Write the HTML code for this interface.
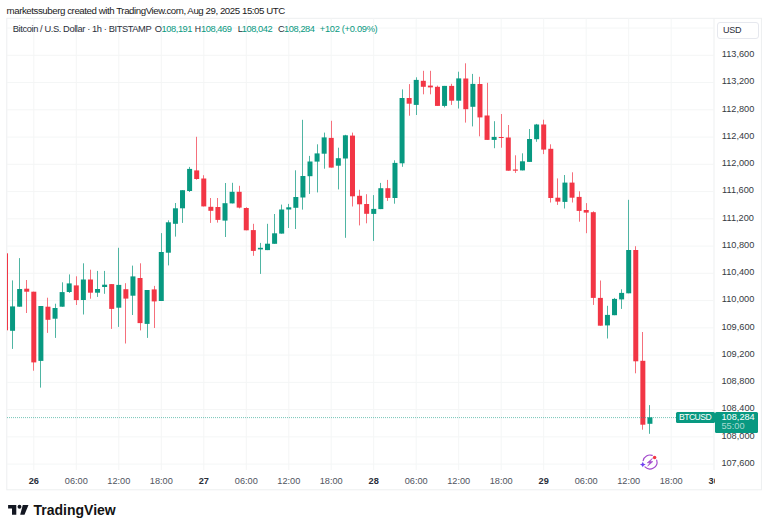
<!DOCTYPE html>
<html><head><meta charset="utf-8"><style>
html,body{margin:0;padding:0;background:#fff;}
body{width:768px;height:531px;position:relative;overflow:hidden;font-family:"Liberation Sans",sans-serif;color:#131722;}
.hdr{position:absolute;left:6.6px;top:4.9px;font-size:9.7px;letter-spacing:-0.44px;white-space:nowrap;color:#1a1a1a;}
svg{position:absolute;left:0;top:0;}
.leg{position:absolute;top:23.8px;font-size:9.3px;white-space:nowrap;color:#2a2e39;}
.leg.v{color:#089981;}
.pl{position:absolute;left:715px;width:46px;text-align:center;font-size:9.2px;color:#363a42;line-height:12px;}
.tlw{position:absolute;left:0;top:473px;width:715px;height:16px;overflow:hidden;}
.tl{position:absolute;top:2.1px;width:40px;text-align:center;font-size:9.2px;color:#50535e;line-height:12px;}
.tl.b{font-weight:bold;color:#2a2e39;}
.usd{position:absolute;left:717px;top:21.5px;width:42px;height:17.5px;border:1px solid #e6e8ee;border-radius:3px;box-sizing:border-box;font-size:9px;line-height:15.5px;color:#2a2e39;padding-left:5px;letter-spacing:-0.3px;}
.btc{position:absolute;left:675.6px;top:412px;width:39px;height:11.4px;background:#089981;border-radius:1.5px;color:#fff;font-size:8.6px;line-height:11.6px;text-align:center;letter-spacing:-0.5px;}
.pb{position:absolute;left:715px;top:412px;width:42.8px;height:20.6px;background:#089981;border-radius:1.5px;color:#fff;font-size:9.2px;line-height:9.6px;padding:0.9px 0 0 6.5px;box-sizing:border-box;}
.pb .t{color:rgba(255,255,255,0.65);}
.logo{position:absolute;left:33.5px;top:502px;font-size:14px;font-weight:bold;letter-spacing:0px;color:#131313;line-height:16px;}
</style></head><body>
<div class="hdr">marketssuberg created with TradingView.com, Aug 29, 2025 15:05 UTC</div>
<svg width="768" height="531" viewBox="0 0 768 531">
<rect x="6.8" y="18.3" width="754.6" height="471.5" fill="none" stroke="#edeff0" stroke-width="1"/>
<line x1="714" y1="18.5" x2="714" y2="470" stroke="#edeff0" stroke-width="1"/>
<g stroke="#f4f6f6" stroke-width="1"><line x1="7" y1="28.0" x2="714" y2="28.0"/><line x1="7" y1="55.3" x2="714" y2="55.3"/><line x1="7" y1="82.5" x2="714" y2="82.5"/><line x1="7" y1="109.8" x2="714" y2="109.8"/><line x1="7" y1="137.1" x2="714" y2="137.1"/><line x1="7" y1="164.3" x2="714" y2="164.3"/><line x1="7" y1="191.6" x2="714" y2="191.6"/><line x1="7" y1="218.8" x2="714" y2="218.8"/><line x1="7" y1="246.1" x2="714" y2="246.1"/><line x1="7" y1="273.3" x2="714" y2="273.3"/><line x1="7" y1="300.6" x2="714" y2="300.6"/><line x1="7" y1="327.9" x2="714" y2="327.9"/><line x1="7" y1="355.1" x2="714" y2="355.1"/><line x1="7" y1="382.4" x2="714" y2="382.4"/><line x1="7" y1="409.6" x2="714" y2="409.6"/><line x1="7" y1="436.9" x2="714" y2="436.9"/><line x1="7" y1="464.1" x2="714" y2="464.1"/><line x1="33.8" y1="18.5" x2="33.8" y2="470"/><line x1="76.3" y1="18.5" x2="76.3" y2="470"/><line x1="118.8" y1="18.5" x2="118.8" y2="470"/><line x1="161.3" y1="18.5" x2="161.3" y2="470"/><line x1="203.8" y1="18.5" x2="203.8" y2="470"/><line x1="246.3" y1="18.5" x2="246.3" y2="470"/><line x1="288.8" y1="18.5" x2="288.8" y2="470"/><line x1="331.2" y1="18.5" x2="331.2" y2="470"/><line x1="373.7" y1="18.5" x2="373.7" y2="470"/><line x1="416.2" y1="18.5" x2="416.2" y2="470"/><line x1="458.7" y1="18.5" x2="458.7" y2="470"/><line x1="501.2" y1="18.5" x2="501.2" y2="470"/><line x1="543.7" y1="18.5" x2="543.7" y2="470"/><line x1="586.2" y1="18.5" x2="586.2" y2="470"/><line x1="628.7" y1="18.5" x2="628.7" y2="470"/><line x1="671.2" y1="18.5" x2="671.2" y2="470"/></g><g fill="#4fb5a3"><rect x="12" y="280.40" width="1" height="68.50"/><rect x="19" y="258.10" width="1" height="48.60"/><rect x="40" y="306.00" width="1" height="81.60"/><rect x="55" y="303.70" width="1" height="34.20"/><rect x="62" y="282.30" width="1" height="24.40"/><rect x="69" y="274.40" width="1" height="18.50"/><rect x="83" y="263.30" width="1" height="51.20"/><rect x="97" y="270.90" width="1" height="26.00"/><rect x="104" y="270.90" width="1" height="22.90"/><rect x="118" y="247.80" width="1" height="79.10"/><rect x="132" y="265.60" width="1" height="49.40"/><rect x="147" y="290.00" width="1" height="47.90"/><rect x="161" y="233.10" width="1" height="67.90"/><rect x="168" y="220.30" width="1" height="45.10"/><rect x="175" y="203.00" width="1" height="33.60"/><rect x="182" y="190.20" width="1" height="32.70"/><rect x="189" y="166.90" width="1" height="25.10"/><rect x="225" y="183.00" width="1" height="54.00"/><rect x="232" y="182.80" width="1" height="20.60"/><rect x="260" y="242.90" width="1" height="31.00"/><rect x="267" y="223.80" width="1" height="26.30"/><rect x="274" y="214.00" width="1" height="29.80"/><rect x="281" y="204.60" width="1" height="29.00"/><rect x="288" y="203.90" width="1" height="24.10"/><rect x="295" y="170.30" width="1" height="58.70"/><rect x="302" y="119.80" width="1" height="89.80"/><rect x="309" y="155.90" width="1" height="38.00"/><rect x="317" y="144.30" width="1" height="48.10"/><rect x="324" y="132.60" width="1" height="36.10"/><rect x="338" y="147.70" width="1" height="41.70"/><rect x="345" y="134.80" width="1" height="103.00"/><rect x="373" y="195.10" width="1" height="45.80"/><rect x="380" y="182.90" width="1" height="26.20"/><rect x="394" y="160.30" width="1" height="43.40"/><rect x="402" y="89.40" width="1" height="77.40"/><rect x="416" y="77.30" width="1" height="37.70"/><rect x="444" y="85.90" width="1" height="21.50"/><rect x="458" y="71.70" width="1" height="36.80"/><rect x="472" y="73.90" width="1" height="52.50"/><rect x="494" y="121.20" width="1" height="27.00"/><rect x="522" y="153.30" width="1" height="17.10"/><rect x="529" y="129.00" width="1" height="32.90"/><rect x="536" y="123.90" width="1" height="17.90"/><rect x="564" y="175.00" width="1" height="33.50"/><rect x="607" y="305.80" width="1" height="32.70"/><rect x="614" y="297.90" width="1" height="17.30"/><rect x="621" y="289.30" width="1" height="19.60"/><rect x="628" y="199.80" width="1" height="93.50"/><rect x="649" y="405.10" width="1" height="28.70"/></g><g fill="#f5707c"><rect x="26" y="280.00" width="1" height="33.00"/><rect x="33" y="291.70" width="1" height="79.00"/><rect x="47" y="297.70" width="1" height="35.20"/><rect x="76" y="276.30" width="1" height="28.70"/><rect x="90" y="269.70" width="1" height="29.00"/><rect x="111" y="284.10" width="1" height="44.80"/><rect x="125" y="283.20" width="1" height="60.30"/><rect x="140" y="263.30" width="1" height="67.10"/><rect x="154" y="285.90" width="1" height="42.10"/><rect x="196" y="136.80" width="1" height="42.90"/><rect x="203" y="175.20" width="1" height="31.20"/><rect x="210" y="198.00" width="1" height="24.90"/><rect x="217" y="198.00" width="1" height="24.60"/><rect x="239" y="185.80" width="1" height="22.60"/><rect x="246" y="207.20" width="1" height="23.10"/><rect x="253" y="223.80" width="1" height="32.00"/><rect x="331" y="120.80" width="1" height="46.80"/><rect x="352" y="132.60" width="1" height="73.90"/><rect x="359" y="189.80" width="1" height="35.60"/><rect x="366" y="194.20" width="1" height="29.10"/><rect x="387" y="179.90" width="1" height="21.00"/><rect x="409" y="84.10" width="1" height="31.60"/><rect x="423" y="70.80" width="1" height="23.50"/><rect x="430" y="70.80" width="1" height="23.50"/><rect x="437" y="85.60" width="1" height="20.30"/><rect x="451" y="83.80" width="1" height="21.10"/><rect x="465" y="63.30" width="1" height="59.30"/><rect x="479" y="76.80" width="1" height="59.50"/><rect x="487" y="82.80" width="1" height="57.10"/><rect x="501" y="114.00" width="1" height="33.70"/><rect x="508" y="125.00" width="1" height="45.70"/><rect x="515" y="155.30" width="1" height="17.60"/><rect x="543" y="119.70" width="1" height="34.40"/><rect x="550" y="144.30" width="1" height="58.20"/><rect x="557" y="178.40" width="1" height="26.50"/><rect x="572" y="172.30" width="1" height="30.20"/><rect x="579" y="191.30" width="1" height="30.40"/><rect x="586" y="203.10" width="1" height="30.10"/><rect x="593" y="211.30" width="1" height="93.60"/><rect x="600" y="280.50" width="1" height="45.20"/><rect x="635" y="246.20" width="1" height="127.10"/><rect x="642" y="332.00" width="1" height="97.70"/></g><g fill="#089981"><rect x="10.05" y="306.40" width="5.0" height="24.40"/><rect x="17.14" y="289.00" width="5.0" height="17.70"/><rect x="38.38" y="306.00" width="5.0" height="54.90"/><rect x="52.55" y="308.00" width="5.0" height="10.70"/><rect x="59.63" y="292.10" width="5.0" height="14.60"/><rect x="66.71" y="283.40" width="5.0" height="8.60"/><rect x="80.87" y="279.50" width="5.0" height="20.50"/><rect x="95.04" y="289.00" width="5.0" height="3.70"/><rect x="102.12" y="284.70" width="5.0" height="2.30"/><rect x="116.28" y="284.90" width="5.0" height="22.80"/><rect x="130.45" y="276.40" width="5.0" height="19.30"/><rect x="144.61" y="290.00" width="5.0" height="33.90"/><rect x="158.78" y="252.00" width="5.0" height="49.00"/><rect x="165.86" y="222.30" width="5.0" height="30.40"/><rect x="172.94" y="208.30" width="5.0" height="15.50"/><rect x="180.02" y="190.20" width="5.0" height="18.10"/><rect x="187.10" y="168.90" width="5.0" height="22.10"/><rect x="222.51" y="203.20" width="5.0" height="17.40"/><rect x="229.60" y="191.80" width="5.0" height="11.60"/><rect x="257.92" y="247.80" width="5.0" height="1.60"/><rect x="265.01" y="243.70" width="5.0" height="6.40"/><rect x="272.09" y="233.30" width="5.0" height="10.50"/><rect x="279.17" y="209.50" width="5.0" height="24.10"/><rect x="286.25" y="207.30" width="5.0" height="2.20"/><rect x="293.33" y="197.00" width="5.0" height="10.80"/><rect x="300.42" y="176.00" width="5.0" height="21.50"/><rect x="307.50" y="161.50" width="5.0" height="14.70"/><rect x="314.58" y="153.40" width="5.0" height="8.20"/><rect x="321.66" y="137.40" width="5.0" height="16.30"/><rect x="335.83" y="158.20" width="5.0" height="7.50"/><rect x="342.91" y="135.30" width="5.0" height="23.20"/><rect x="371.24" y="208.90" width="5.0" height="5.00"/><rect x="378.32" y="188.20" width="5.0" height="20.90"/><rect x="392.48" y="162.90" width="5.0" height="35.10"/><rect x="399.56" y="98.00" width="5.0" height="65.30"/><rect x="413.73" y="79.90" width="5.0" height="25.00"/><rect x="442.06" y="85.90" width="5.0" height="20.00"/><rect x="456.22" y="78.40" width="5.0" height="22.30"/><rect x="470.38" y="83.90" width="5.0" height="22.90"/><rect x="491.63" y="136.90" width="5.0" height="3.00"/><rect x="519.96" y="161.30" width="5.0" height="9.10"/><rect x="527.04" y="139.00" width="5.0" height="22.90"/><rect x="534.12" y="124.50" width="5.0" height="14.70"/><rect x="562.45" y="182.60" width="5.0" height="19.30"/><rect x="604.94" y="314.90" width="5.0" height="10.50"/><rect x="612.02" y="298.90" width="5.0" height="16.30"/><rect x="619.11" y="292.90" width="5.0" height="6.50"/><rect x="626.19" y="250.00" width="5.0" height="43.30"/><rect x="647.43" y="417.30" width="5.0" height="6.50"/></g><g fill="#f23645"><rect x="24.22" y="288.70" width="5.0" height="3.00"/><rect x="31.30" y="291.70" width="5.0" height="70.70"/><rect x="45.46" y="306.70" width="5.0" height="13.10"/><rect x="73.79" y="285.40" width="5.0" height="14.70"/><rect x="87.96" y="279.50" width="5.0" height="13.20"/><rect x="109.20" y="284.10" width="5.0" height="24.80"/><rect x="123.37" y="289.20" width="5.0" height="9.40"/><rect x="137.53" y="278.00" width="5.0" height="45.10"/><rect x="151.69" y="289.40" width="5.0" height="12.00"/><rect x="194.19" y="170.40" width="5.0" height="8.60"/><rect x="201.27" y="178.50" width="5.0" height="27.90"/><rect x="208.35" y="206.80" width="5.0" height="4.00"/><rect x="215.43" y="207.00" width="5.0" height="12.90"/><rect x="236.68" y="191.80" width="5.0" height="15.80"/><rect x="243.76" y="208.00" width="5.0" height="22.30"/><rect x="250.84" y="230.10" width="5.0" height="20.80"/><rect x="328.74" y="137.90" width="5.0" height="29.70"/><rect x="349.99" y="135.60" width="5.0" height="60.70"/><rect x="357.07" y="195.80" width="5.0" height="8.50"/><rect x="364.15" y="204.00" width="5.0" height="9.80"/><rect x="385.40" y="188.20" width="5.0" height="9.70"/><rect x="406.65" y="98.00" width="5.0" height="5.70"/><rect x="420.81" y="80.80" width="5.0" height="6.00"/><rect x="427.89" y="85.60" width="5.0" height="1.80"/><rect x="434.97" y="86.80" width="5.0" height="19.10"/><rect x="449.14" y="85.90" width="5.0" height="14.80"/><rect x="463.30" y="78.50" width="5.0" height="30.70"/><rect x="477.47" y="84.00" width="5.0" height="33.40"/><rect x="484.55" y="115.50" width="5.0" height="24.40"/><rect x="498.71" y="137.00" width="5.0" height="1.00"/><rect x="505.79" y="137.50" width="5.0" height="33.20"/><rect x="512.88" y="169.50" width="5.0" height="1.20"/><rect x="541.20" y="124.50" width="5.0" height="25.10"/><rect x="548.29" y="148.80" width="5.0" height="49.20"/><rect x="555.37" y="197.70" width="5.0" height="3.90"/><rect x="569.53" y="182.60" width="5.0" height="15.10"/><rect x="576.61" y="196.90" width="5.0" height="14.00"/><rect x="583.70" y="210.00" width="5.0" height="2.60"/><rect x="590.78" y="212.20" width="5.0" height="85.70"/><rect x="597.86" y="297.90" width="5.0" height="27.80"/><rect x="633.27" y="250.00" width="5.0" height="111.30"/><rect x="640.35" y="360.80" width="5.0" height="63.90"/></g><rect x="7" y="253.3" width="1" height="77" fill="#f23645"/><line x1="7" y1="417.6" x2="714" y2="417.6" stroke="#089981" stroke-width="1" stroke-dasharray="1 1" opacity="0.55"/>
</svg>
<div class="leg" style="left:12.8px;letter-spacing:-0.4px">Bitcoin / U.S. Dollar · 1h · BITSTAMP</div>
<div class="leg" style="left:154.8px">O</div><div class="leg v" style="left:161.6px;letter-spacing:-0.45px">108,191</div>
<div class="leg" style="left:194.7px;font-size:8.7px">H</div><div class="leg v" style="left:201px;letter-spacing:-0.45px">108,469</div>
<div class="leg" style="left:237.7px">L</div><div class="leg v" style="left:241.7px;letter-spacing:-0.45px">108,042</div>
<div class="leg" style="left:278.1px">C</div><div class="leg v" style="left:284.1px;letter-spacing:-0.45px">108,284</div>
<div class="leg v" style="left:319.8px;letter-spacing:-0.3px">+102 (+0.09%)</div>
<div class="usd">USD</div>
<div class="pl" style="top:48.1px">113,600</div><div class="pl" style="top:75.3px">113,200</div><div class="pl" style="top:102.6px">112,800</div><div class="pl" style="top:129.9px">112,400</div><div class="pl" style="top:157.1px">112,000</div><div class="pl" style="top:184.4px">111,600</div><div class="pl" style="top:211.6px">111,200</div><div class="pl" style="top:238.9px">110,800</div><div class="pl" style="top:266.1px">110,400</div><div class="pl" style="top:293.4px">110,000</div><div class="pl" style="top:320.7px">109,600</div><div class="pl" style="top:347.9px">109,200</div><div class="pl" style="top:375.2px">108,800</div><div class="pl" style="top:402.4px">108,400</div><div class="pl" style="top:429.7px">108,000</div><div class="pl" style="top:456.9px">107,600</div>
<div class="tlw"><div class="tl b" style="left:13.8px">26</div><div class="tl" style="left:56.3px">06:00</div><div class="tl" style="left:98.8px">12:00</div><div class="tl" style="left:141.3px">18:00</div><div class="tl b" style="left:183.8px">27</div><div class="tl" style="left:226.3px">06:00</div><div class="tl" style="left:268.8px">12:00</div><div class="tl" style="left:311.2px">18:00</div><div class="tl b" style="left:353.7px">28</div><div class="tl" style="left:396.2px">06:00</div><div class="tl" style="left:438.7px">12:00</div><div class="tl" style="left:481.2px">18:00</div><div class="tl b" style="left:523.7px">29</div><div class="tl" style="left:566.2px">06:00</div><div class="tl" style="left:608.7px">12:00</div><div class="tl" style="left:651.2px">18:00</div><div class="tl b" style="left:693.7px">30</div></div>
<div class="btc">BTCUSD</div>
<div class="pb">108,284<br><span class="t">55:00</span></div>
<svg width="768" height="531" viewBox="0 0 768 531" style="pointer-events:none">
<g fill="#131722">
<path d="M8.1 504.9H16.3V514.8H12V508.6H8.1Z"/>
<circle cx="19.5" cy="506.8" r="1.95"/>
<path d="M22.8 504.9H28.5L24.5 514.8H20.2Z"/>
</g>
<g transform="translate(650 462)">
<path d="M6.72 -1.90 A7 7 0 0 1 -5.04 4.86" fill="none" stroke="#a146cc" stroke-width="1.15" stroke-linecap="round"/>
<path d="M-6.86 -1.40 A7 7 0 0 1 2.25 -6.63" fill="none" stroke="#a146cc" stroke-width="1.15" stroke-linecap="round"/>
<path d="M2.5 -3.7 L-2.8 0.8 H0 L-2.4 4.2 L2.9 -0.4 H0.1 Z" fill="#a146cc" stroke="#a146cc" stroke-width="0.5" stroke-linejoin="round"/>
<circle cx="4.6" cy="-4.5" r="1.75" fill="#f23645"/>
<path d="M-7.2 -0.3 Q-6.8 2.1 -4.3 2.5 Q-6.8 2.9 -7.2 5.3 Q-7.6 2.9 -10.1 2.5 Q-7.6 2.1 -7.2 -0.3Z" fill="#7040f0"/>
</g>
</svg>
<div class="logo">TradingView</div>
</body></html>
